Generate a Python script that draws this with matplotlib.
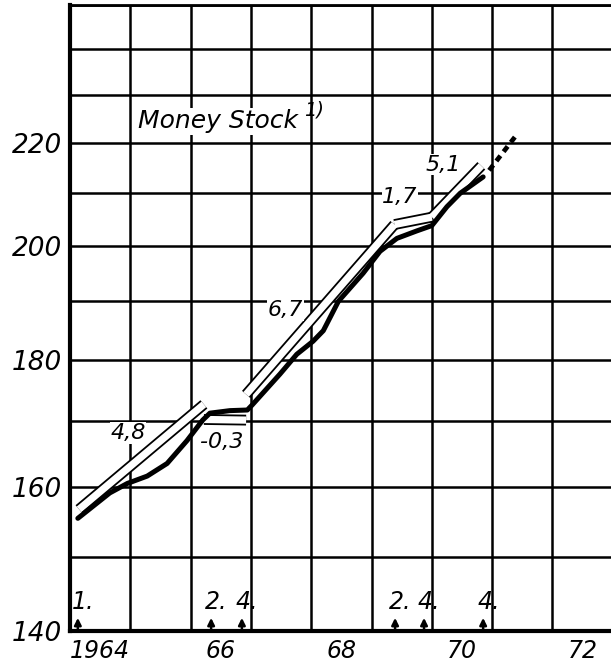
"""
    Money stock chart (log scale) with trend bands
"""

import matplotlib
matplotlib.use("Agg")
from matplotlib import pyplot as plt
from matplotlib.ticker import FixedLocator, NullLocator

# actual money stock (thick black line)
years = [1964.13, 1964.66, 1964.95, 1965.28, 1965.61, 1965.94, 1966.20, 1966.32,
         1966.65, 1966.94, 1967.02, 1967.48, 1967.76, 1968.03, 1968.20, 1968.45,
         1968.86, 1969.14, 1969.42, 1969.75, 1970.00, 1970.25, 1970.47, 1970.85]
values = [155.4, 159.1, 160.5, 161.6, 163.5, 167.0, 170.2, 171.3,
          171.7, 171.8, 172.6, 177.6, 180.9, 183.1, 184.9, 190.0,
          195.0, 199.0, 201.4, 202.8, 203.8, 207.4, 210.0, 213.2]

# provisional continuation (dotted)
ext_years = [1970.95, 1971.40]
ext_values = [214.5, 221.6]

# trend segments: (start year, start value, end year, end value)
trend_x0 = [1964.15, 1966.22, 1966.92, 1969.38, 1970.00]
trend_y0 = [156.7, 170.3, 174.3, 204.0, 205.4]
trend_x1 = [1966.22, 1966.92, 1969.38, 1970.00, 1970.82]
trend_y1 = [172.7, 170.2, 204.0, 205.4, 215.4]

# growth-rate labels
rate_labels = ["4,8", "-0,3", "6,7", "1,7", "5,1"]
rate_x = [1964.96, 1966.52, 1967.57, 1969.47, 1970.19]
rate_y = [168.2, 166.8, 188.5, 209.3, 215.6]

# quarter markers on the time axis
marker_x = [1964.13, 1966.34, 1966.85, 1969.39, 1969.87, 1970.85]
marker_labels = ["1.", "2.", "4.", "2.", "4.", "4."]

ytick_values = [140, 150, 160, 170, 180, 190, 200, 210, 220, 230, 240, 250]
ytick_labels = ["140", "", "160", "", "180", "", "200", "", "220", "", "", ""]
xgrid_years = [1964, 1965, 1966, 1967, 1968, 1969, 1970, 1971, 1972]
xlabel_pos = [1964.5, 1966.5, 1968.5, 1970.5, 1972.5]
xlabel_text = ["1964", "66", "68", "70", "72"]

fig = plt.figure(figsize=(6.11, 6.66), dpi=100)
ax = fig.add_axes([70 / 611, 35 / 666, 541 / 611, 626 / 666])

ax.set_yscale("log")
ax.set_ylim(140, 250)
ax.set_xlim(1964, 1972.97)

ax.yaxis.set_major_locator(FixedLocator(ytick_values))
ax.yaxis.set_minor_locator(NullLocator())
ax.set_yticklabels(ytick_labels)
ax.xaxis.set_major_locator(FixedLocator(xgrid_years))
ax.xaxis.set_minor_locator(NullLocator())
ax.set_xticklabels([])
ax.tick_params(length=0, labelsize=19, pad=6)
for lab in ax.get_yticklabels():
    lab.set_fontstyle("italic")

ax.grid(True, color="black", linewidth=1.8)
ax.set_axisbelow(True)
for side in ["left", "bottom"]:
    ax.spines[side].set_linewidth(3)
ax.spines["top"].set_linewidth(2)
ax.spines["right"].set_visible(False)

for xp, txt in zip(xlabel_pos, xlabel_text):
    ax.text(xp, -0.012, txt, transform=ax.get_xaxis_transform(),
            ha="center", va="top", fontsize=17, fontstyle="italic")

# trend bands: black outline with white fill
for x0, y0, x1, y1 in zip(trend_x0, trend_y0, trend_x1, trend_y1):
    ax.plot([x0, x1], [y0, y1], color="black", linewidth=7.8,
            solid_capstyle="butt", zorder=3)
    ax.plot([x0, x1], [y0, y1], color="white", linewidth=5.2,
            solid_capstyle="butt", zorder=4)

ax.plot(years, values, color="black", linewidth=3.6,
        solid_capstyle="round", solid_joinstyle="round", zorder=5)
ax.plot(ext_years, ext_values, color="black", linewidth=3.4,
        dashes=(1.4, 1.1), zorder=5)

for xp, yp, txt in zip(rate_x, rate_y, rate_labels):
    ax.text(xp, yp, txt, ha="center", va="center", fontsize=16,
            fontstyle="italic", zorder=6,
            bbox=dict(fc="white", ec="none", pad=0.5))

ax.text(1965.13, 224.5, "Money Stock", ha="left", va="center", fontsize=18,
        fontstyle="italic", zorder=6, bbox=dict(fc="white", ec="none", pad=1))
ax.text(1967.88, 226.8, "1)", ha="left", va="center", fontsize=14,
        fontstyle="italic", zorder=6)

for xp, txt in zip(marker_x, marker_labels):
    ax.annotate("", xy=(xp, 0.021), xytext=(xp, 0.0),
                xycoords=ax.get_xaxis_transform(),
                arrowprops=dict(arrowstyle="-|>", color="black", lw=1.8,
                                mutation_scale=10, shrinkA=0, shrinkB=0),
                zorder=6)
    ax.text(xp - 0.1, 0.027, txt, transform=ax.get_xaxis_transform(),
            ha="left", va="bottom", fontsize=17, fontstyle="italic",
            zorder=6)

plt.savefig("out.png", dpi=100)
